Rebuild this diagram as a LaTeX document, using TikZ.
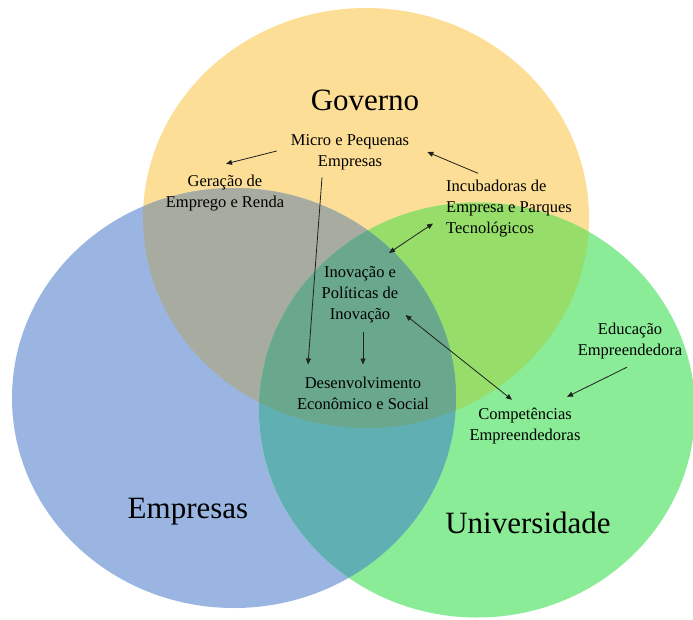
\documentclass[tikz,border=0pt]{standalone}
\usepackage{fontspec}
\setmainfont{Liberation Serif}
\usetikzlibrary{arrows.meta,calc}
\definecolor{cY}{HTML}{FCDE96}
\definecolor{cB}{HTML}{9BB5E2}
\definecolor{cG}{HTML}{8AEC96}
\definecolor{cYB}{HTML}{A8ACA0}
\definecolor{cYG}{HTML}{96DE69}
\definecolor{cBG}{HTML}{60AFB2}
\definecolor{cYBG}{HTML}{6AA88E}
\definecolor{lineC}{HTML}{202020}
\tikzset{
  lbl/.style={inner sep=0pt, align=center, font=\fontsize{16.5}{21}\selectfont, text=black},
  big/.style={inner sep=0pt, font=\fontsize{31}{36}\selectfont, text=black},
  arr/.style={draw=lineC, line width=0.8pt, -{Triangle[length=6pt,width=5pt]}},
  darr/.style={draw=lineC, line width=0.8pt, {Triangle[length=6pt,width=5pt]}-{Triangle[length=6pt,width=5pt]}},
}
\begin{document}
\begin{tikzpicture}[x=1pt,y=-1pt]
\useasboundingbox (0,0) rectangle (693,619);
% circles
\def\Ycirc{(366,218) ellipse [x radius=223, y radius=210]}
\def\Bcirc{(234,398) ellipse [x radius=222, y radius=210]}
\def\Gcirc{(477,410) ellipse [x radius=218, y radius=207.5]}
\fill[cY] \Ycirc;
\fill[cB] \Bcirc;
\fill[cG] \Gcirc;
\begin{scope}\clip \Ycirc; \fill[cYB] \Bcirc; \end{scope}
\begin{scope}\clip \Ycirc; \fill[cYG] \Gcirc; \end{scope}
\begin{scope}\clip \Bcirc; \fill[cBG] \Gcirc; \end{scope}
\begin{scope}\clip \Ycirc; \clip \Bcirc; \fill[cYBG] \Gcirc; \end{scope}
% big labels
\node[big] (gov) at (365,100) {Governo};
\node[big] (emp) at (188,512) {Empresas};
\node[big] (uni) at (528,523) {Universidade};
% small labels
\node[lbl] (mpe) at (350,152.5) {Micro e Pequenas\\Empresas};
\node[lbl] (ger) at (225,193) {Geração de\\Emprego e Renda};
\node[lbl, align=left, anchor=west] (inc) at (446,208.5) {Incubadoras de\\Empresa e Parques\\Tecnológicos};
\node[lbl] (ino) at (360,295) {Inovação e\\Políticas de\\Inovação};
\node[lbl] (des) at (363,393) {Desenvolvimento\\Econômico e Social};
\node[lbl] (edu) at (630,341) {Educação\\Empreendedora};
\node[lbl] (com) at (525,426) {Competências\\Empreendedoras};
% connectors
\draw[arr] ($(mpe.west)+(-14,-1.5)$) -- ($(ger.north)+(1,-11)$);
\draw[arr] ($(inc.north west)+(32,-6.5)$) -- ($(mpe.east)+(18,-0.5)$);
\draw[arr] ($(mpe.south)+(-28,7)$) -- ($(des.north)+(-55,-12)$);
\draw[arr] ($(ino.south)+(3,8.5)$) -- ($(des.north)+(0,-12)$);
\draw[darr] ($(inc.west)+(-13,15)$) -- ($(ino.north)+(29,-13.5)$);
\draw[darr] ($(ino.east)+(7,20)$) -- ($(com.north)+(-13,-8)$);
\draw[arr] ($(edu.south)+(-3,8)$) -- ($(com.north)+(42,-11)$);
\end{tikzpicture}
\end{document}
